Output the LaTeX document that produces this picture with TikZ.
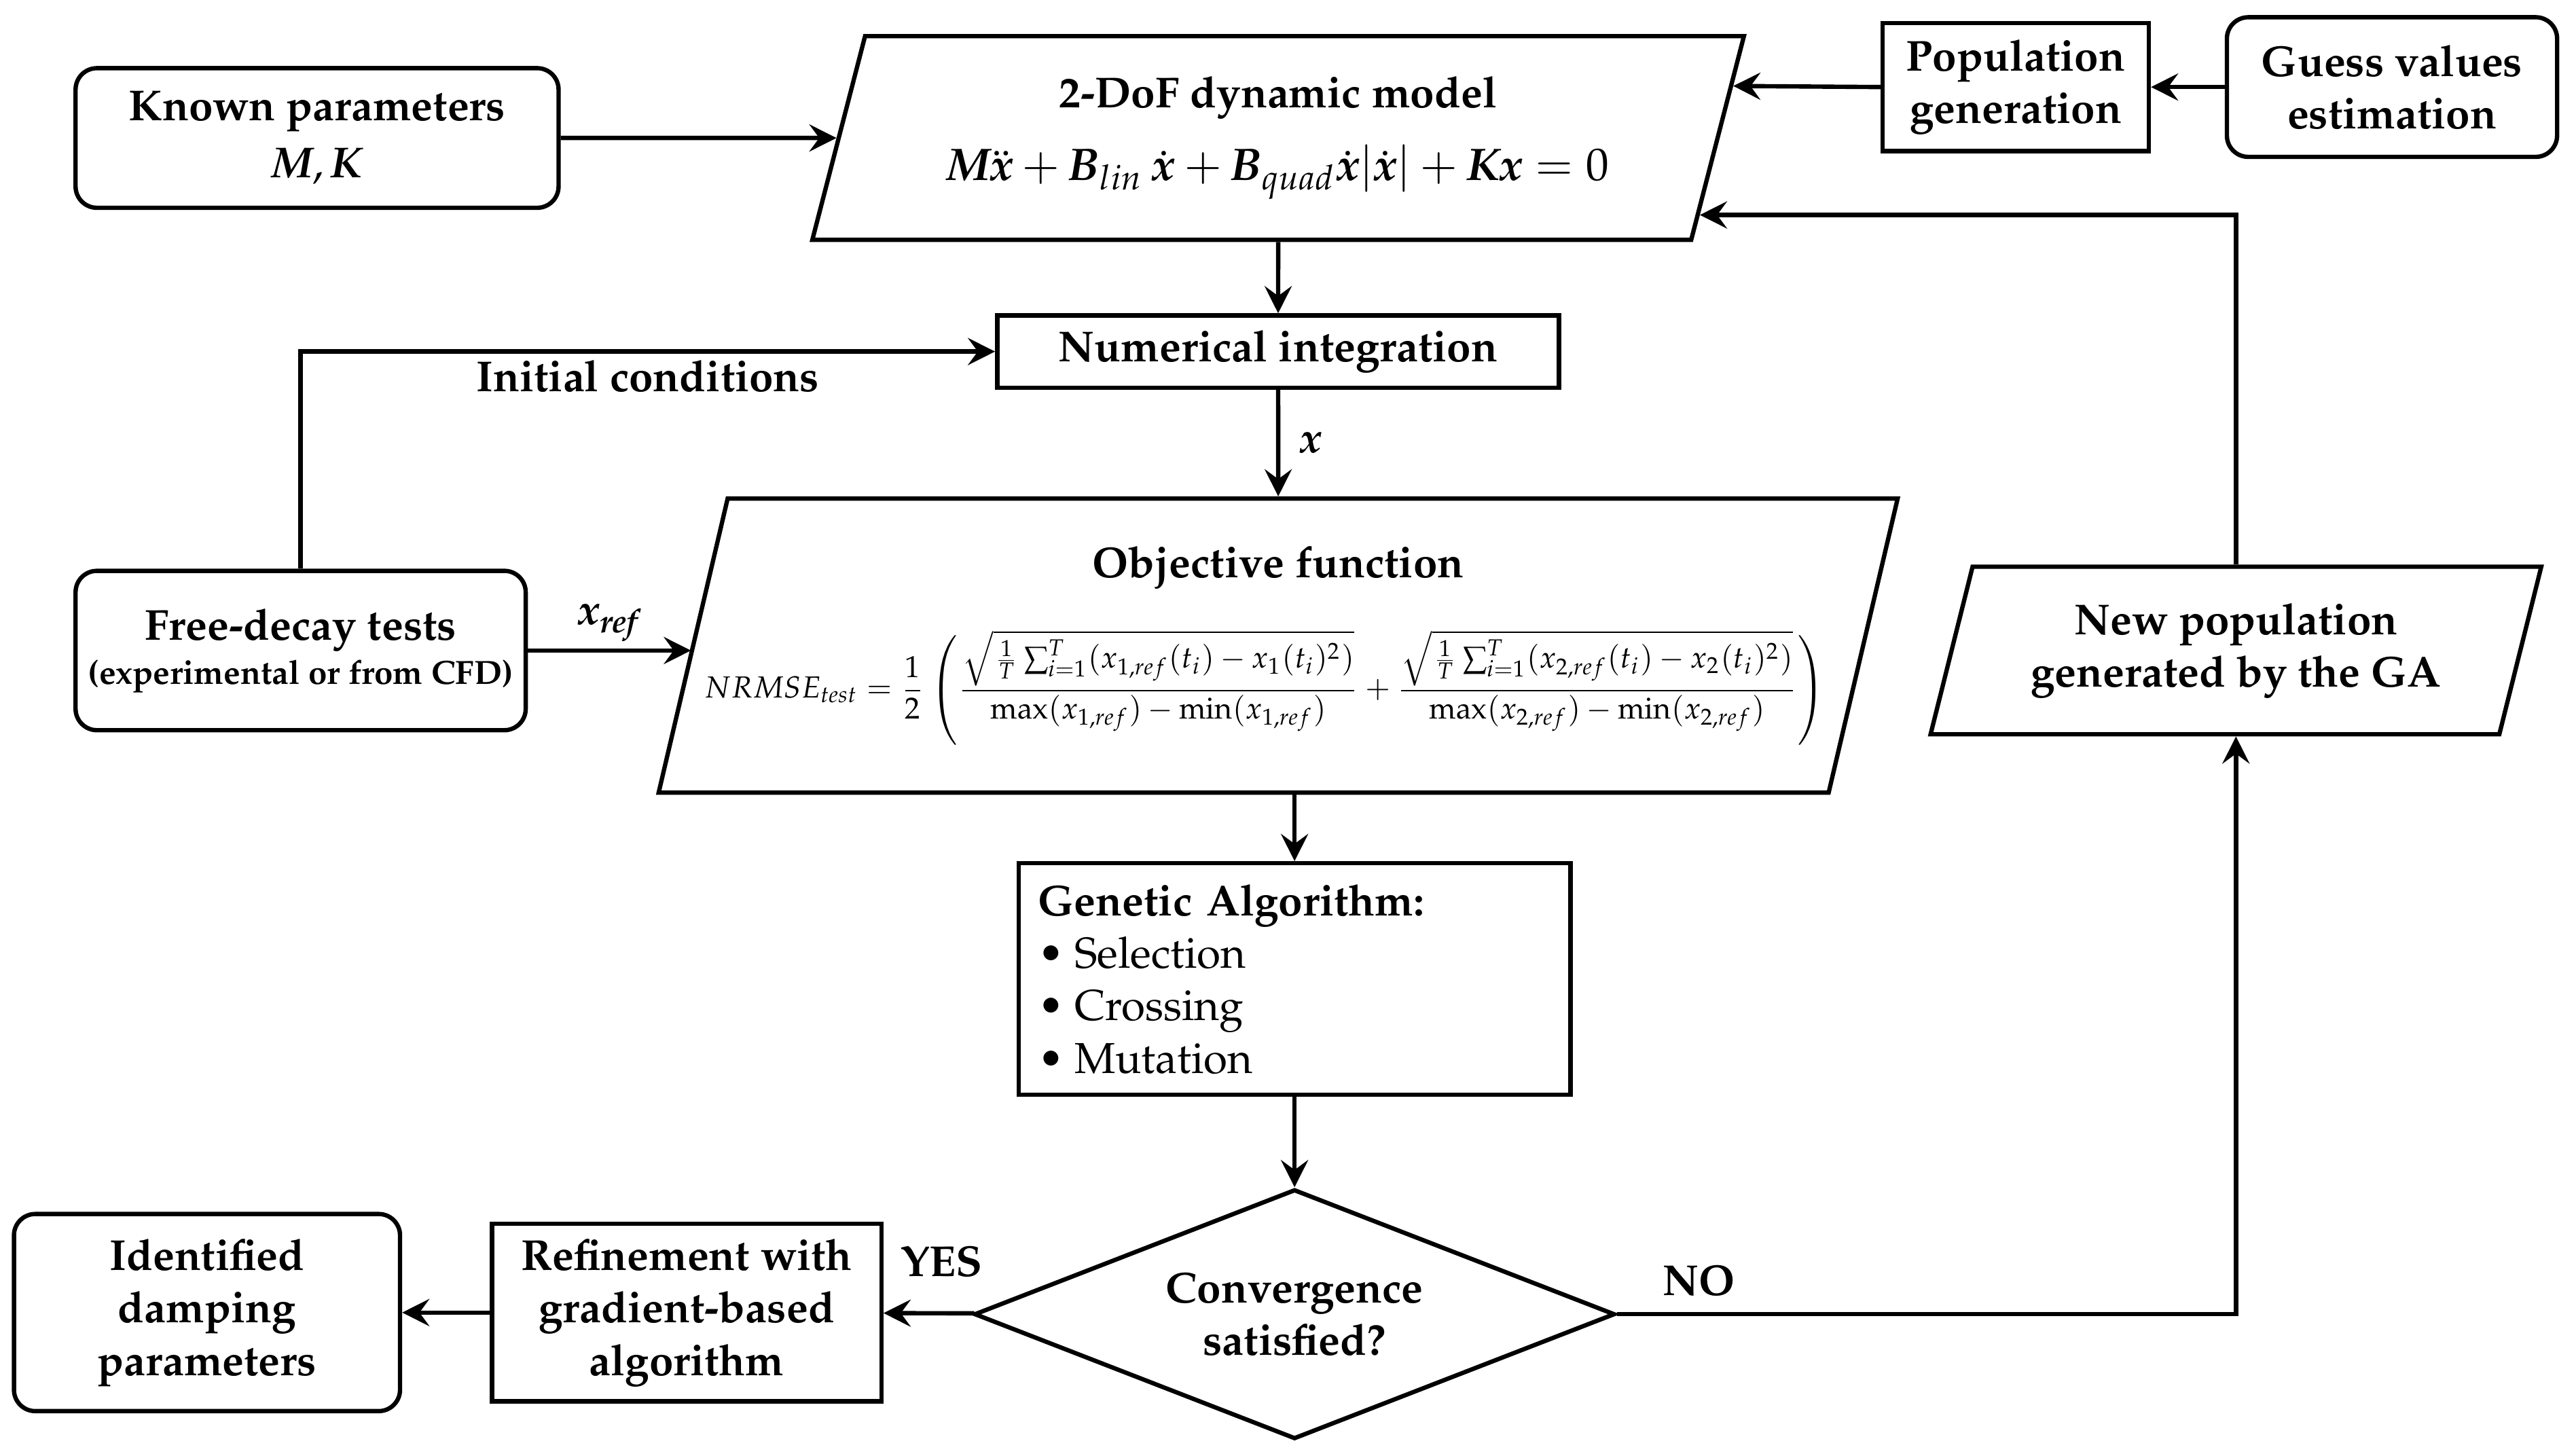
\documentclass[tikz,border=0pt]{standalone}
\usepackage[T1]{fontenc}
\usepackage{mathpazo}
\usepackage{amsmath}
\usetikzlibrary{shapes,arrows.meta,positioning,calc}

\newcommand{\bolditalic}[1]{\text{\bfseries\itshape #1}}

\begin{document}
\begin{tikzpicture}[x=0.1mm, y=-0.1mm,
    font=\fontsize{7.5}{9.1}\selectfont\bfseries,
    box/.style={draw, line width=0.75pt, align=center, inner sep=0pt},
    term/.style={box, rounded corners=1.3mm},
    io/.style={box, trapezium, trapezium left angle=71, trapezium right angle=109, trapezium stretches=true},
    cond/.style={box, diamond, aspect=2.6},
    lbl/.style={inner sep=0pt},
    conn/.style={line width=0.75pt, -{Stealth[length=1.65mm, width=1.65mm, inset=0.6mm]}},
]
    \useasboundingbox (0,0) rectangle (1568,886);

    % Inputs and model
    \node[term, minimum width=29.4mm, minimum height=8.5mm] (known) at (193,84) {Known parameters\\[0.3mm] $\bolditalic{M},\bolditalic{K}$};
    \node[io, minimum width=56.8mm, minimum height=12.4mm] (model) at (778,84)
        {2-DoF dynamic model\\[1.2mm] \resizebox{40.3mm}{!}{$\bolditalic{M}\ddot{\bolditalic{x}}+\bolditalic{B}_{lin}\,\dot{\bolditalic{x}}+\bolditalic{B}_{quad}\dot{\bolditalic{x}}|\dot{\bolditalic{x}}|+\bolditalic{K}\bolditalic{x}=0$}};
    \node[box, minimum width=16.2mm, minimum height=7.8mm] (pop) at (1227,53) {Population\\generation};
    \node[term, minimum width=20.1mm, minimum height=8.5mm] (guess) at (1456,53) {Guess values\\estimation};

    % Integration and objective
    \node[box, minimum width=34.2mm, minimum height=4.4mm] (numint) at (778,214) {Numerical integration};
    \node[term, minimum width=27.4mm, minimum height=9.7mm] (free) at (183,396)
        {Free-decay tests\\[-0.5mm] {\fontsize{5.8}{7}\selectfont (experimental or from CFD)}};
    \node[io, minimum width=75.5mm, minimum height=17.9mm] (obj) at (778,393)
        {Objective function\\[2.2mm] \hspace*{-1.6mm}\resizebox{68.2mm}{!}{\mdseries $NRMSE_{test}=\dfrac{1}{2}\left(\dfrac{\sqrt{\frac{1}{T}\sum_{i=1}^{T}(x_{1,ref}(t_i)-x_1(t_i)^2)}}{\max(x_{1,ref})-\min(x_{1,ref})}+\dfrac{\sqrt{\frac{1}{T}\sum_{i=1}^{T}(x_{2,ref}(t_i)-x_2(t_i)^2)}}{\max(x_{2,ref})-\min(x_{2,ref})}\right)$}};

    % Optimisation loop
    \node[box, minimum width=33.6mm, minimum height=14.1mm, inner xsep=1.2mm, text width=31.2mm, align=left] (ga) at (788,596)
        {Genetic Algorithm:\\ \mdseries
         \makebox[2.2mm][l]{\textbullet}Selection\\
         \makebox[2.2mm][l]{\textbullet}Crossing\\
         \makebox[2.2mm][l]{\textbullet}Mutation};
    \node[cond, minimum width=39mm, minimum height=15.2mm] (conv) at (788,800) {Convergence\\satisfied?};
    \node[box, minimum width=23.7mm, minimum height=10.8mm] (refine) at (418,799) {Refinement with\\gradient-based\\algorithm};
    \node[term, minimum width=23.5mm, minimum height=12mm] (ident) at (126,799) {Identified\\damping\\parameters};
    \node[io, minimum width=37.3mm, minimum height=10.2mm] (newpop) at (1361,396) {New population\\generated by the GA};

    % Connectors
    \draw[conn] (known) -- (model);
    \draw[conn] (guess) -- (pop);
    \draw[conn] (pop.west) -- ($(model.top right corner)!0.25!(model.bottom right corner)$);
    \draw[conn] (model.south) -- (numint.north);
    \draw[conn] (free.north) |- node[lbl, pos=0.75, below=0.4mm] {Initial conditions} (numint.west);
    \draw[conn] (numint) -- node[lbl, right=1.2mm] {$\bolditalic{x}$} (obj);
    \draw[conn] (free.east) -- node[lbl, above=0.4mm] {$\bolditalic{x}_{\bolditalic{ref}}$} (free.east -| obj.west);
    \draw[conn] (obj.south -| ga.north) -- (ga.north);
    \draw[conn] (ga) -- (conv);
    \draw[conn] (conv) -- node[lbl, pos=0.36, above=2.1mm] {YES} (refine);
    \draw[conn] (refine) -- (ident);
    \draw[conn] (conv.east) -| node[lbl, pos=0.066, above=1mm] {NO} (newpop.south);
    \draw[conn] (newpop.north) |- ($(model.top right corner)!0.87!(model.bottom right corner)$);
\end{tikzpicture}
\end{document}
